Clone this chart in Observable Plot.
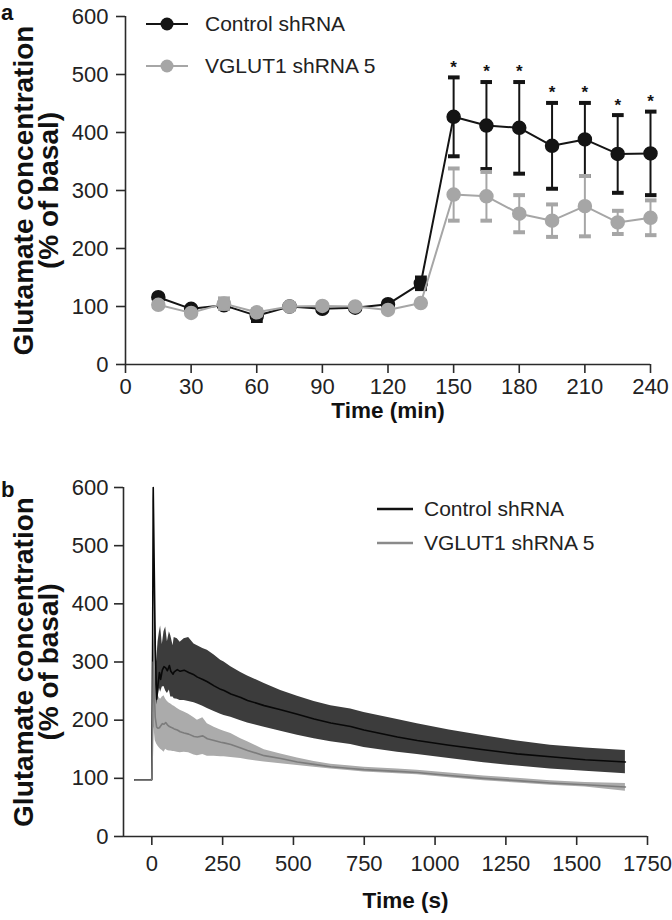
<!DOCTYPE html>
<html><head><meta charset="utf-8">
<script src="https://cdn.jsdelivr.net/npm/d3@7"></script>
<script src="https://cdn.jsdelivr.net/npm/@observablehq/plot@0.6"></script>
<style>
body{margin:0;background:#fff;font-family:"Liberation Sans",Arial,sans-serif;}
#wrap{position:relative;width:672px;height:920px;overflow:hidden;background:#fff;}
.panel{position:absolute;left:0;}
.plab{position:absolute;font-weight:bold;font-size:22px;color:#111;line-height:1.15;}
.leg{position:absolute;font-size:21px;color:#222;line-height:1;}
</style></head><body>
<div id="wrap">
  <div id="pa" class="panel" style="top:0px;"></div>
  <div id="pb" class="panel" style="top:460px;"></div>
  <div class="plab" style="left:1px;top:0px;">a</div>
  <div class="plab" style="left:1px;top:477px;">b</div>
  <div id="lega" class="leg"></div>
  <div id="legb" class="leg"></div>
</div>
<script>
// ---------- Panel a data ----------
const seriesNames = ["Control shRNA", "VGLUT1 shRNA 5"];
const timesA = [15, 30, 45, 60, 75, 90, 105, 120, 135, 150, 165, 180, 195, 210, 225, 240];
const controlA = [116, 96, 102, 84, 100, 96, 98, 104, 140, 427, 412, 408, 377, 388, 363, 364];
const controlErrA = [3, 3, 5, 9, 4, 3, 3, 4, 10, 68, 75, 79, 74, 63, 67, 72];
const vglutA = [103, 89, 105, 90, 100, 101, 100, 94, 106, 293, 290, 260, 248, 273, 245, 253];
const vglutErrA = [4, 3, 9, 5, 6, 3, 3, 3, 3, 45, 42, 32, 28, 52, 20, 30];
const starTimesA = [150, 165, 180, 195, 210, 225, 240];
const xTicksA = [0, 30, 60, 90, 120, 150, 180, 210, 240];
const yTicks = [0, 100, 200, 300, 400, 500, 600];

// ---------- Panel b data ----------
const timeB = [-60, -30, -3, 0, 3, 5, 8, 12, 17, 22, 27, 31, 37, 43, 49, 55, 62, 67, 75, 79, 90, 100, 114, 130, 149, 161, 180, 196, 220, 243, 255, 279, 314, 338, 397, 455, 514, 573, 632, 702, 749, 867, 937, 1050, 1172, 1290, 1407, 1530, 1672];
const controlMeanB = [97, 97, 97, 98, 350, 600, 480, 330, 236, 262, 282, 270, 286, 292, 290, 285, 294, 284, 279, 283, 287, 284, 286, 282, 278, 274, 270, 266, 259, 253, 251, 245, 239, 234, 225, 218, 210, 202, 195, 189, 183, 171, 165, 157, 149, 142, 137, 132, 128];
const controlHiB = [98, 98, 98, 99, 370, 600, 520, 385, 300, 335, 352, 362, 330, 352, 360, 335, 352, 345, 328, 342, 340, 334, 340, 342, 331, 328, 323, 320, 312, 303, 300, 292, 282, 276, 263, 251, 241, 232, 225, 219, 213, 201, 194, 183, 173, 164, 157, 152, 148];
const controlLoB = [96, 96, 96, 97, 330, 580, 420, 270, 226, 238, 255, 248, 257, 258, 250, 246, 252, 240, 240, 237, 236, 234, 234, 232, 230, 228, 224, 220, 215, 210, 208, 205, 199, 195, 188, 181, 174, 168, 163, 158, 153, 145, 141, 134, 127, 121, 116, 112, 108];
const vglutMeanB = [97, 97, 97, 98, 180, 300, 260, 205, 188, 186, 187, 190, 194, 193, 196, 192, 189, 188, 186, 185, 183, 180, 178, 176, 172, 171, 173, 168, 165, 162, 161, 158, 152, 148, 139, 134, 128, 124, 120, 117, 115, 112, 110, 105, 100, 96, 92, 89, 85];
const vglutHiB = [98, 98, 98, 99, 220, 355, 330, 270, 240, 242, 238, 236, 240, 242, 236, 232, 229, 228, 225, 224, 220, 217, 214, 210, 204, 200, 204, 194, 188, 183, 181, 177, 168, 163, 149, 142, 135, 129, 124, 121, 119, 116, 114, 109, 104, 100, 96, 93, 91];
const vglutLoB = [96, 96, 96, 97, 150, 190, 185, 165, 159, 155, 152, 150, 148, 145, 150, 148, 147, 147, 146, 146, 145, 144, 145, 144, 140, 139, 141, 138, 138, 137, 137, 136, 134, 132, 128, 125, 122, 119, 116, 113, 111, 108, 106, 101, 96, 92, 88, 85, 78];
const xTicksB = [0, 250, 500, 750, 1000, 1250, 1500, 1750];

const yLabel = "Glutamate concentration\n(% of basal)";
const BLACK = "#141414", GREY = "#a6a6a6", AX = "#2a2a2a";
const FONT = "'Liberation Sans', Arial, sans-serif";

// ---------- Panel a ----------
const rowsA = timesA.flatMap((t, i) => [
  {t, s: seriesNames[0], v: controlA[i], lo: controlA[i] - controlErrA[i], hi: controlA[i] + controlErrA[i]},
  {t, s: seriesNames[1], v: vglutA[i], lo: vglutA[i] - vglutErrA[i], hi: vglutA[i] + vglutErrA[i]}
]);
const ctrlA = rowsA.filter(d => d.s === seriesNames[0]);
const vgA = rowsA.filter(d => d.s === seriesNames[1]);
const starsA = ctrlA.filter(d => starTimesA.includes(d.t));

function errMarks(rows, color) {
  return [
    Plot.link(rows, {x1: "t", x2: "t", y1: "lo", y2: "hi", stroke: color, strokeWidth: 2, markerStart: "tick", markerEnd: "tick"}),
    Plot.line(rows, {x: "t", y: "v", stroke: color, strokeWidth: 2}),
    Plot.dot(rows, {x: "t", y: "v", r: 6.5, fill: color, stroke: color})
  ];
}

const plotA = Plot.plot({
  width: 672, height: 430,
  marginLeft: 125, marginRight: 22, marginTop: 16, marginBottom: 66,
  style: {fontFamily: FONT, fontSize: "22px", color: "#222", background: "transparent", overflow: "visible"},
  x: {domain: [0, 240]},
  y: {domain: [0, 600]},
  marks: [
    Plot.axisX({ticks: xTicksA, tickSize: 9, tickPadding: 5, stroke: AX, strokeWidth: 1.6, fontSize: 22, label: null, tickFormat: "d"}),
    Plot.axisY({ticks: yTicks, tickSize: 9, tickPadding: 8, stroke: AX, strokeWidth: 1.6, fontSize: 22, label: null, tickFormat: "d"}),
    Plot.ruleY([0], {stroke: AX, strokeWidth: 1.6}),
    Plot.ruleX([0], {stroke: AX, strokeWidth: 1.6}),
    ...errMarks(ctrlA, BLACK),
    ...errMarks(vgA, GREY),
    Plot.text(starsA, {x: "t", y: "hi", text: () => "*", dy: -10, fontSize: 17, fontWeight: "bold", fill: BLACK}),
    Plot.text(["Time (min)"], {frameAnchor: "bottom", dy: 53, fontSize: 22.5, fontWeight: "bold", fill: "#111"}),
    Plot.text([yLabel], {frameAnchor: "left", textAnchor: "middle", rotate: -90, dx: -88, fontSize: 28, fontWeight: "bold", fill: "#111", lineHeight: 0.9})
  ]
});
document.getElementById("pa").appendChild(plotA);

// ---------- Panel b ----------
const rowsB = timeB.map((t, i) => ({t,
  cm: controlMeanB[i], cl: controlLoB[i], ch: controlHiB[i],
  vm: vglutMeanB[i], vl: vglutLoB[i], vh: vglutHiB[i]}));

const plotB = Plot.plot({
  width: 672, height: 460,
  marginLeft: 123, marginRight: 25, marginTop: 27, marginBottom: 84,
  style: {fontFamily: FONT, fontSize: "22px", color: "#222", background: "transparent", overflow: "visible"},
  x: {domain: [-100, 1750]},
  y: {domain: [0, 600]},
  marks: [
    Plot.axisX({ticks: xTicksB, tickSize: 9, tickPadding: 10, stroke: AX, strokeWidth: 1.6, fontSize: 22, label: null, tickFormat: "d"}),
    Plot.axisY({ticks: yTicks, tickSize: 9, tickPadding: 6, stroke: AX, strokeWidth: 1.6, fontSize: 22, label: null, tickFormat: "d"}),
    Plot.ruleY([0], {stroke: AX, strokeWidth: 1.6}),
    Plot.ruleX([-100], {stroke: AX, strokeWidth: 1.6}),
    Plot.areaY(rowsB, {x: "t", y1: "vl", y2: "vh", fill: "#ababab"}),
    Plot.areaY(rowsB, {x: "t", y1: "cl", y2: "ch", fill: "#3c3c3c"}),
    Plot.lineY(rowsB, {x: "t", y: "cm", stroke: "#080808", strokeWidth: 1.6}),
    Plot.lineY(rowsB, {x: "t", y: "vm", stroke: "#7c7c7c", strokeWidth: 1.6}),
    Plot.text(["Time (s)"], {frameAnchor: "bottom", dx: 20, dy: 71, fontSize: 22.5, fontWeight: "bold", fill: "#111"}),
    Plot.text([yLabel], {frameAnchor: "left", textAnchor: "middle", rotate: -90, dx: -86, fontSize: 28, fontWeight: "bold", fill: "#111", lineHeight: 0.9})
  ]
});
document.getElementById("pb").appendChild(plotB);

// ---------- Legends ----------
function buildLegend(id, rows) {
  const el = document.getElementById(id);
  rows.forEach(r => {
    const row = document.createElement("div");
    row.style.position = "absolute";
    row.style.left = r.left + "px";
    row.style.top = (r.top - 10) + "px";
    row.style.whiteSpace = "nowrap";
    row.innerHTML =
      `<svg width="${r.lineW}" height="20" style="position:absolute;left:0;top:0;overflow:visible">` +
      `<line x1="0" x2="${r.lineW}" y1="10" y2="10" stroke="${r.color}" stroke-width="${r.strokeW}"/>` +
      (r.withDot ? `<circle cx="${r.lineW / 2}" cy="10" r="6.5" fill="${r.color}"/>` : "") +
      `</svg><span style="position:absolute;left:${r.textX}px;top:-1px;">${r.label}</span>`;
    el.appendChild(row);
  });
}
buildLegend("lega", [
  {left: 146, top: 24, color: BLACK, withDot: true, lineW: 42, strokeW: 2, textX: 59, label: seriesNames[0]},
  {left: 146, top: 66, color: GREY, withDot: true, lineW: 42, strokeW: 2, textX: 59, label: seriesNames[1]}
]);
buildLegend("legb", [
  {left: 377, top: 509, color: "#111", withDot: false, lineW: 36, strokeW: 2.5, textX: 47, label: seriesNames[0]},
  {left: 377, top: 543, color: "#8a8a8a", withDot: false, lineW: 36, strokeW: 2.5, textX: 47, label: seriesNames[1]}
]);
</script>
</body></html>
